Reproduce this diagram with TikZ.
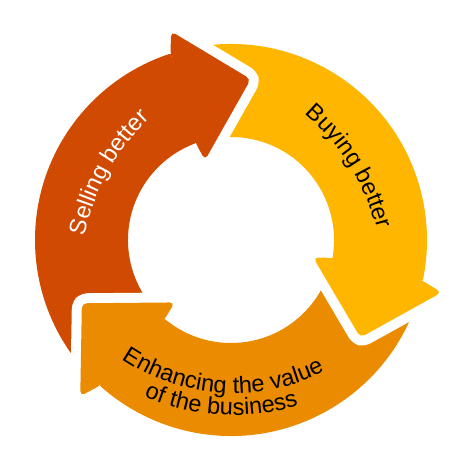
\documentclass[tikz,border=0pt]{standalone}
\usepackage{fontspec}
\setmainfont{Liberation Sans}
\usetikzlibrary{calc,decorations.text}
\definecolor{sellred}{HTML}{D04A02}
\definecolor{buyyellow}{HTML}{FFB600}
\definecolor{valueorange}{HTML}{EB8C00}
\newcommand{\cyclefont}{\fontsize{23.5}{28}\selectfont}

\begin{document}
\begin{tikzpicture}
[x=1pt,y=1pt,
  head border/.style={draw=white,line width=20pt,line join=round,rounded corners=5pt},
  head fill/.style={fill=#1,rounded corners=5pt},
  along/.style={decorate,decoration={text along path,text align=center,text={#1}}}]
  \fill[white] (-231,-234) rectangle (243,240);
  \useasboundingbox (-231,-234) rectangle (243,240);
  % the three bands of the ring
  \foreach \r/\c in {0/sellred,-120/buyyellow,-240/valueorange}
    \fill[\c,rotate=\r] (225:196) arc[start angle=225,end angle=108,radius=196]
      -- (108:103) arc[start angle=108,end angle=225,radius=103] -- cycle;
  % arrow heads, each with a white rim over the next band
  \foreach \r/\c in {0/sellred,-120/buyyellow,-240/valueorange}{
    \draw[head border,rotate=\r] (108:196) -- (106:217) -- (83:162) -- (108:84) -- (110:103);
    \fill[head fill=\c,rotate=\r] (108:196) -- (106:217) -- (83:162) -- (108:84) -- (110:103) -- cycle;
  }
  % labels
  \path[along={|\color{white}\cyclefont|Selling better}]
    ($(151:-90)+(176:230)$) arc[start angle=176,end angle=126,radius=230];
  \path[along={|\cyclefont|Buying better}]
    ($(32:-90)+(57:230)$) arc[start angle=57,end angle=7,radius=230];
  \path[along={|\cyclefont|Enhancing the value}]
    ($(266.5:-47)+(226.5:200)$) arc[start angle=226.5,end angle=306.5,radius=200];
  \path[along={|\cyclefont|of the business}]
    ($(266.5:-47)+(226.5:222)$) arc[start angle=226.5,end angle=306.5,radius=222];
\end{tikzpicture}
\end{document}
